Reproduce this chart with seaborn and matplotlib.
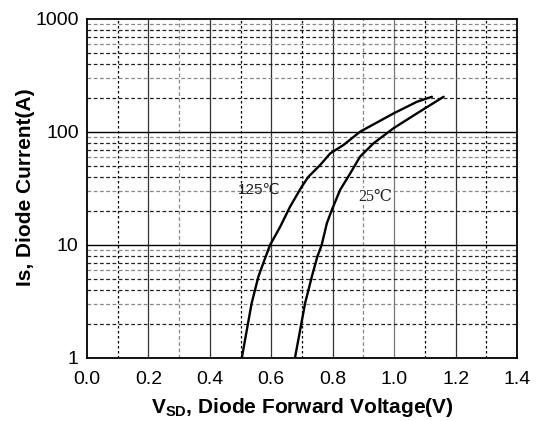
import matplotlib
matplotlib.use("Agg")
import matplotlib.pyplot as plt
import seaborn as sns
import pandas as pd

# Data
v_125 = [0.504, 0.536, 0.558, 0.578, 0.596, 0.629, 0.661, 0.699, 0.721, 0.759, 0.792, 0.835, 0.889, 0.998, 1.074, 1.123]
i_125 = [1.0, 3.05, 5.25, 7.4, 10.0, 14.5, 21.8, 32.8, 40.2, 51.0, 64.7, 76.7, 100.6, 146.0, 185.0, 205.0]
v_25 = [0.677, 0.694, 0.710, 0.732, 0.750, 0.764, 0.781, 0.797, 0.824, 0.857, 0.889, 0.933, 0.998, 1.074, 1.161]
i_25 = [1.0, 1.77, 3.05, 5.25, 7.9, 10.0, 15.6, 20.4, 30.7, 43.0, 60.5, 79.5, 108.0, 146.0, 205.0]
x_ticks = [0.0, 0.2, 0.4, 0.6, 0.8, 1.0, 1.2, 1.4]
y_ticks = [1, 10, 100, 1000]

df = pd.concat([
    pd.DataFrame({"V": v_125, "I": i_125, "T": "125"}),
    pd.DataFrame({"V": v_25, "I": i_25, "T": "25"}),
])

sns.set_theme(style="white")
plt.rcParams["font.family"] = ["Liberation Sans", "DejaVu Sans"]
plt.rcParams["mathtext.fontset"] = "custom"
plt.rcParams["mathtext.rm"] = "Liberation Sans"
plt.rcParams["mathtext.bf"] = "Liberation Sans:bold"
plt.rcParams["text.color"] = "black"
plt.rcParams["axes.labelcolor"] = "black"

fig = plt.figure(figsize=(5.38, 4.21), dpi=100)
ax = fig.add_axes([87/538, 1 - 358/421, (517 - 87)/538, (358 - 19)/421])

ax.set_yscale("log")
ax.set_xlim(0, 1.4)
ax.set_ylim(1, 1000)

# grid
for xv in [0.2, 0.4, 0.6, 0.8, 1.2]:
    ax.axvline(xv, color="#333333", lw=0.9, zorder=1)
ax.axvline(1.0, color="#777777", lw=0.9, zorder=1)
for xv in [0.1, 0.5, 0.7, 1.1, 1.3]:
    ax.axvline(xv, color="black", lw=0.9, ls=(0, (2, 2)), zorder=1)
for xv in [0.3, 0.9]:
    ax.axvline(xv, color="#888888", lw=0.9, ls=(0, (3, 2)), zorder=1)
for yv in [10, 100]:
    ax.axhline(yv, color="black", lw=1.0, zorder=1)
for dec in [1, 10, 100]:
    for k in range(2, 10):
        col = "#222222" if k in (2, 4, 5, 7, 8) else "#888888"
        ax.axhline(dec * k, color=col, lw=0.9, ls=(0, (3, 2)), zorder=1)

sns.lineplot(data=df, x="V", y="I", units="T", estimator=None, sort=False,
             color="black", lw=1.7, ax=ax, legend=False, zorder=3)

ax.set_xticks(x_ticks)
ax.set_xticklabels([f"{v:.1f}" for v in x_ticks], fontsize=14)
ax.set_yticks(y_ticks)
ax.set_yticklabels([str(v) for v in y_ticks], fontsize=14)
ax.minorticks_off()
ax.tick_params(axis="x", length=0, pad=9, colors="black")
ax.tick_params(axis="y", length=0, pad=6, colors="black")
for s in ax.spines.values():
    s.set_color("black")
    s.set_linewidth(1.3)
    s.set_visible(True)

ax.set_xlabel(r"V$\mathbf{_{SD}}$, Diode Forward Voltage(V)", fontsize=15, fontweight="bold", color="black")
ax.set_ylabel("Is, Diode Current(A)", fontsize=15, fontweight="bold", color="black")
ax.xaxis.set_label_coords((302 - 87) / 430, -(396 - 358) / 339)
ax.yaxis.set_label_coords((35 - 87) / 430, (358 - 187) / 339)

ax.text(0.492, 30.7, "125\u2103", fontsize=11, va="center", ha="left", color="#222222",
        family=["Liberation Sans", "DejaVu Sans"], zorder=4)
ax.text(0.883, 26.8, "25\u2103", fontsize=11.5, va="center", ha="left", color="#222222",
        family=["Liberation Serif", "DejaVu Serif"], zorder=4,
        bbox=dict(facecolor="white", edgecolor="none", pad=0.5))

fig.savefig("out.png", dpi=100)
